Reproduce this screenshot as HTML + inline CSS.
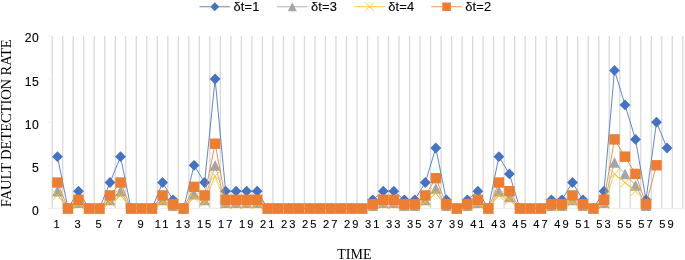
<!DOCTYPE html>
<html><head><meta charset="utf-8"><title>Fault detection rate</title>
<style>
html,body{margin:0;padding:0;background:#fff;}
body{width:685px;height:260px;overflow:hidden;}
svg{display:block;}
.t{font-family:"Liberation Sans",sans-serif;font-size:12.2px;fill:#000;stroke:#000;stroke-width:0.12px;}
.l{font-family:"Liberation Sans",sans-serif;font-size:12.9px;fill:#000;stroke:#000;stroke-width:0.12px;}
.x{font-family:"Liberation Sans",sans-serif;font-size:11.1px;fill:#000;stroke:#000;stroke-width:0.12px;}
.s{font-family:"Liberation Serif",serif;font-size:14px;fill:#000;}
</style></head><body>
<svg width="685" height="260" viewBox="0 0 685 260">
<rect width="685" height="260" fill="#fff"/>
<g stroke="#D9D9D9" stroke-width="1.3" fill="none">
<line x1="52.20" y1="35.9" x2="52.20" y2="208.4"/><line x1="62.71" y1="35.9" x2="62.71" y2="208.4"/><line x1="73.22" y1="35.9" x2="73.22" y2="208.4"/><line x1="83.73" y1="35.9" x2="83.73" y2="208.4"/><line x1="94.24" y1="35.9" x2="94.24" y2="208.4"/><line x1="104.75" y1="35.9" x2="104.75" y2="208.4"/><line x1="115.26" y1="35.9" x2="115.26" y2="208.4"/><line x1="125.77" y1="35.9" x2="125.77" y2="208.4"/><line x1="136.28" y1="35.9" x2="136.28" y2="208.4"/><line x1="146.79" y1="35.9" x2="146.79" y2="208.4"/><line x1="157.30" y1="35.9" x2="157.30" y2="208.4"/><line x1="167.81" y1="35.9" x2="167.81" y2="208.4"/><line x1="178.32" y1="35.9" x2="178.32" y2="208.4"/><line x1="188.83" y1="35.9" x2="188.83" y2="208.4"/><line x1="199.34" y1="35.9" x2="199.34" y2="208.4"/><line x1="209.85" y1="35.9" x2="209.85" y2="208.4"/><line x1="220.36" y1="35.9" x2="220.36" y2="208.4"/><line x1="230.87" y1="35.9" x2="230.87" y2="208.4"/><line x1="241.38" y1="35.9" x2="241.38" y2="208.4"/><line x1="251.89" y1="35.9" x2="251.89" y2="208.4"/><line x1="262.40" y1="35.9" x2="262.40" y2="208.4"/><line x1="272.91" y1="35.9" x2="272.91" y2="208.4"/><line x1="283.42" y1="35.9" x2="283.42" y2="208.4"/><line x1="293.93" y1="35.9" x2="293.93" y2="208.4"/><line x1="304.44" y1="35.9" x2="304.44" y2="208.4"/><line x1="314.95" y1="35.9" x2="314.95" y2="208.4"/><line x1="325.46" y1="35.9" x2="325.46" y2="208.4"/><line x1="335.97" y1="35.9" x2="335.97" y2="208.4"/><line x1="346.48" y1="35.9" x2="346.48" y2="208.4"/><line x1="356.99" y1="35.9" x2="356.99" y2="208.4"/><line x1="367.50" y1="35.9" x2="367.50" y2="208.4"/><line x1="378.01" y1="35.9" x2="378.01" y2="208.4"/><line x1="388.52" y1="35.9" x2="388.52" y2="208.4"/><line x1="399.03" y1="35.9" x2="399.03" y2="208.4"/><line x1="409.54" y1="35.9" x2="409.54" y2="208.4"/><line x1="420.05" y1="35.9" x2="420.05" y2="208.4"/><line x1="430.56" y1="35.9" x2="430.56" y2="208.4"/><line x1="441.07" y1="35.9" x2="441.07" y2="208.4"/><line x1="451.58" y1="35.9" x2="451.58" y2="208.4"/><line x1="462.09" y1="35.9" x2="462.09" y2="208.4"/><line x1="472.60" y1="35.9" x2="472.60" y2="208.4"/><line x1="483.11" y1="35.9" x2="483.11" y2="208.4"/><line x1="493.62" y1="35.9" x2="493.62" y2="208.4"/><line x1="504.13" y1="35.9" x2="504.13" y2="208.4"/><line x1="514.64" y1="35.9" x2="514.64" y2="208.4"/><line x1="525.15" y1="35.9" x2="525.15" y2="208.4"/><line x1="535.66" y1="35.9" x2="535.66" y2="208.4"/><line x1="546.17" y1="35.9" x2="546.17" y2="208.4"/><line x1="556.68" y1="35.9" x2="556.68" y2="208.4"/><line x1="567.19" y1="35.9" x2="567.19" y2="208.4"/><line x1="577.70" y1="35.9" x2="577.70" y2="208.4"/><line x1="588.21" y1="35.9" x2="588.21" y2="208.4"/><line x1="598.72" y1="35.9" x2="598.72" y2="208.4"/><line x1="609.23" y1="35.9" x2="609.23" y2="208.4"/><line x1="619.74" y1="35.9" x2="619.74" y2="208.4"/><line x1="630.25" y1="35.9" x2="630.25" y2="208.4"/><line x1="640.76" y1="35.9" x2="640.76" y2="208.4"/><line x1="651.27" y1="35.9" x2="651.27" y2="208.4"/><line x1="661.78" y1="35.9" x2="661.78" y2="208.4"/><line x1="672.29" y1="35.9" x2="672.29" y2="208.4"/><line x1="682.80" y1="35.9" x2="682.80" y2="208.4"/>
</g>
<g stroke="#F0F0F0" stroke-width="1" fill="none"><line x1="47.5" y1="208.4" x2="683" y2="208.4" stroke="#EBEBEB"/><line x1="47.5" y1="165.28" x2="52.2" y2="165.28"/><line x1="47.5" y1="122.15" x2="52.2" y2="122.15"/><line x1="47.5" y1="79.03" x2="52.2" y2="79.03"/><line x1="47.5" y1="35.90" x2="52.2" y2="35.90"/></g>
<text class="t" x="32.12" y="214.9" letter-spacing="0.5">0</text><text class="t" x="32.12" y="171.8" letter-spacing="0.5">5</text><text class="t" x="24.84" y="128.7" letter-spacing="0.5">10</text><text class="t" x="24.84" y="85.5" letter-spacing="0.5">15</text><text class="t" x="24.84" y="42.4" letter-spacing="0.5">20</text>
<text class="x" x="53.47" y="228.2">1</text><text class="x" x="74.48" y="228.2">3</text><text class="x" x="95.50" y="228.2">5</text><text class="x" x="116.52" y="228.2">7</text><text class="x" x="137.54" y="228.2">9</text><text class="x" x="154.84" y="228.2" letter-spacing="2.08">11</text><text class="x" x="175.86" y="228.2" letter-spacing="2.08">13</text><text class="x" x="196.89" y="228.2" letter-spacing="2.08">15</text><text class="x" x="217.91" y="228.2" letter-spacing="2.08">17</text><text class="x" x="238.92" y="228.2" letter-spacing="2.08">19</text><text class="x" x="259.94" y="228.2" letter-spacing="2.08">21</text><text class="x" x="280.97" y="228.2" letter-spacing="2.08">23</text><text class="x" x="301.99" y="228.2" letter-spacing="2.08">25</text><text class="x" x="323.00" y="228.2" letter-spacing="2.08">27</text><text class="x" x="344.02" y="228.2" letter-spacing="2.08">29</text><text class="x" x="365.05" y="228.2" letter-spacing="2.08">31</text><text class="x" x="386.06" y="228.2" letter-spacing="2.08">33</text><text class="x" x="407.08" y="228.2" letter-spacing="2.08">35</text><text class="x" x="428.11" y="228.2" letter-spacing="2.08">37</text><text class="x" x="449.12" y="228.2" letter-spacing="2.08">39</text><text class="x" x="470.14" y="228.2" letter-spacing="2.08">41</text><text class="x" x="491.17" y="228.2" letter-spacing="2.08">43</text><text class="x" x="512.18" y="228.2" letter-spacing="2.08">45</text><text class="x" x="533.20" y="228.2" letter-spacing="2.08">47</text><text class="x" x="554.23" y="228.2" letter-spacing="2.08">49</text><text class="x" x="575.25" y="228.2" letter-spacing="2.08">51</text><text class="x" x="596.26" y="228.2" letter-spacing="2.08">53</text><text class="x" x="617.28" y="228.2" letter-spacing="2.08">55</text><text class="x" x="638.30" y="228.2" letter-spacing="2.08">57</text><text class="x" x="659.33" y="228.2" letter-spacing="2.08">59</text>
<g><polyline fill="none" stroke="#4472C4" stroke-width="0.85" stroke-linejoin="round" points="57.46,156.65 67.97,208.40 78.47,191.15 88.98,208.40 99.50,208.40 110.00,182.53 120.52,156.65 131.03,208.40 141.53,208.40 152.05,208.40 162.56,182.53 173.06,199.78 183.57,208.40 194.08,165.28 204.60,182.53 215.11,79.03 225.62,191.15 236.12,191.15 246.63,191.15 257.14,191.15 267.65,208.40 278.17,208.40 288.68,208.40 299.19,208.40 309.69,208.40 320.20,208.40 330.71,208.40 341.22,208.40 351.73,208.40 362.25,208.40 372.75,199.78 383.26,191.15 393.77,191.15 404.28,199.78 414.79,199.78 425.31,182.53 435.81,148.03 446.32,199.78 456.83,208.40 467.34,199.78 477.85,191.15 488.36,208.40 498.88,156.65 509.38,173.90 519.89,208.40 530.40,208.40 540.91,208.40 551.42,199.78 561.94,199.78 572.45,182.53 582.96,199.78 593.47,208.40 603.98,191.15 614.49,70.40 625.00,104.90 635.50,139.40 646.01,199.78 656.52,122.15 667.04,148.03"/>
<path d="M57.46 151.25L62.86 156.65L57.46 162.05L52.06 156.65Z" fill="#4472C4"/><path d="M67.97 203.00L73.37 208.40L67.97 213.80L62.57 208.40Z" fill="#4472C4"/><path d="M78.47 185.75L83.88 191.15L78.47 196.55L73.07 191.15Z" fill="#4472C4"/><path d="M88.98 203.00L94.39 208.40L88.98 213.80L83.58 208.40Z" fill="#4472C4"/><path d="M99.50 203.00L104.90 208.40L99.50 213.80L94.09 208.40Z" fill="#4472C4"/><path d="M110.00 177.12L115.41 182.53L110.00 187.93L104.60 182.53Z" fill="#4472C4"/><path d="M120.52 151.25L125.92 156.65L120.52 162.05L115.11 156.65Z" fill="#4472C4"/><path d="M131.03 203.00L136.43 208.40L131.03 213.80L125.62 208.40Z" fill="#4472C4"/><path d="M141.53 203.00L146.94 208.40L141.53 213.80L136.13 208.40Z" fill="#4472C4"/><path d="M152.05 203.00L157.45 208.40L152.05 213.80L146.65 208.40Z" fill="#4472C4"/><path d="M162.56 177.12L167.96 182.53L162.56 187.93L157.16 182.53Z" fill="#4472C4"/><path d="M173.06 194.38L178.47 199.78L173.06 205.18L167.66 199.78Z" fill="#4472C4"/><path d="M183.57 203.00L188.97 208.40L183.57 213.80L178.17 208.40Z" fill="#4472C4"/><path d="M194.08 159.88L199.48 165.28L194.08 170.68L188.68 165.28Z" fill="#4472C4"/><path d="M204.60 177.12L210.00 182.53L204.60 187.93L199.20 182.53Z" fill="#4472C4"/><path d="M215.11 73.62L220.51 79.03L215.11 84.43L209.71 79.03Z" fill="#4472C4"/><path d="M225.62 185.75L231.02 191.15L225.62 196.55L220.22 191.15Z" fill="#4472C4"/><path d="M236.12 185.75L241.53 191.15L236.12 196.55L230.72 191.15Z" fill="#4472C4"/><path d="M246.63 185.75L252.03 191.15L246.63 196.55L241.23 191.15Z" fill="#4472C4"/><path d="M257.14 185.75L262.54 191.15L257.14 196.55L251.74 191.15Z" fill="#4472C4"/><path d="M267.65 203.00L273.05 208.40L267.65 213.80L262.25 208.40Z" fill="#4472C4"/><path d="M278.17 203.00L283.56 208.40L278.17 213.80L272.77 208.40Z" fill="#4472C4"/><path d="M288.68 203.00L294.07 208.40L288.68 213.80L283.28 208.40Z" fill="#4472C4"/><path d="M299.19 203.00L304.58 208.40L299.19 213.80L293.79 208.40Z" fill="#4472C4"/><path d="M309.69 203.00L315.09 208.40L309.69 213.80L304.30 208.40Z" fill="#4472C4"/><path d="M320.20 203.00L325.60 208.40L320.20 213.80L314.81 208.40Z" fill="#4472C4"/><path d="M330.71 203.00L336.11 208.40L330.71 213.80L325.31 208.40Z" fill="#4472C4"/><path d="M341.22 203.00L346.62 208.40L341.22 213.80L335.82 208.40Z" fill="#4472C4"/><path d="M351.73 203.00L357.13 208.40L351.73 213.80L346.33 208.40Z" fill="#4472C4"/><path d="M362.25 203.00L367.64 208.40L362.25 213.80L356.85 208.40Z" fill="#4472C4"/><path d="M372.75 194.38L378.15 199.78L372.75 205.18L367.36 199.78Z" fill="#4472C4"/><path d="M383.26 185.75L388.66 191.15L383.26 196.55L377.87 191.15Z" fill="#4472C4"/><path d="M393.77 185.75L399.17 191.15L393.77 196.55L388.38 191.15Z" fill="#4472C4"/><path d="M404.28 194.38L409.68 199.78L404.28 205.18L398.88 199.78Z" fill="#4472C4"/><path d="M414.79 194.38L420.19 199.78L414.79 205.18L409.39 199.78Z" fill="#4472C4"/><path d="M425.31 177.12L430.70 182.53L425.31 187.93L419.91 182.53Z" fill="#4472C4"/><path d="M435.81 142.62L441.21 148.03L435.81 153.43L430.42 148.03Z" fill="#4472C4"/><path d="M446.32 194.38L451.72 199.78L446.32 205.18L440.93 199.78Z" fill="#4472C4"/><path d="M456.83 203.00L462.23 208.40L456.83 213.80L451.44 208.40Z" fill="#4472C4"/><path d="M467.34 194.38L472.74 199.78L467.34 205.18L461.94 199.78Z" fill="#4472C4"/><path d="M477.85 185.75L483.25 191.15L477.85 196.55L472.45 191.15Z" fill="#4472C4"/><path d="M488.36 203.00L493.76 208.40L488.36 213.80L482.96 208.40Z" fill="#4472C4"/><path d="M498.88 151.25L504.27 156.65L498.88 162.05L493.48 156.65Z" fill="#4472C4"/><path d="M509.38 168.50L514.78 173.90L509.38 179.30L503.99 173.90Z" fill="#4472C4"/><path d="M519.89 203.00L525.29 208.40L519.89 213.80L514.50 208.40Z" fill="#4472C4"/><path d="M530.40 203.00L535.80 208.40L530.40 213.80L525.00 208.40Z" fill="#4472C4"/><path d="M540.91 203.00L546.31 208.40L540.91 213.80L535.51 208.40Z" fill="#4472C4"/><path d="M551.42 194.38L556.82 199.78L551.42 205.18L546.02 199.78Z" fill="#4472C4"/><path d="M561.94 194.38L567.34 199.78L561.94 205.18L556.54 199.78Z" fill="#4472C4"/><path d="M572.45 177.12L577.85 182.53L572.45 187.93L567.05 182.53Z" fill="#4472C4"/><path d="M582.96 194.38L588.36 199.78L582.96 205.18L577.56 199.78Z" fill="#4472C4"/><path d="M593.47 203.00L598.87 208.40L593.47 213.80L588.07 208.40Z" fill="#4472C4"/><path d="M603.98 185.75L609.38 191.15L603.98 196.55L598.58 191.15Z" fill="#4472C4"/><path d="M614.49 65.00L619.88 70.40L614.49 75.80L609.09 70.40Z" fill="#4472C4"/><path d="M625.00 99.50L630.39 104.90L625.00 110.30L619.60 104.90Z" fill="#4472C4"/><path d="M635.50 134.00L640.90 139.40L635.50 144.80L630.11 139.40Z" fill="#4472C4"/><path d="M646.01 194.38L651.41 199.78L646.01 205.18L640.62 199.78Z" fill="#4472C4"/><path d="M656.52 116.75L661.92 122.15L656.52 127.55L651.12 122.15Z" fill="#4472C4"/><path d="M667.04 142.62L672.44 148.03L667.04 153.43L661.64 148.03Z" fill="#4472C4"/></g>
<g><polyline fill="none" stroke="#A5A5A5" stroke-width="0.85" stroke-linejoin="round" points="57.46,191.15 67.97,208.40 78.47,202.65 88.98,208.40 99.50,208.40 110.00,199.78 120.52,191.15 131.03,208.40 141.53,208.40 152.05,208.40 162.56,199.78 173.06,205.53 183.57,208.40 194.08,194.03 204.60,199.78 215.11,165.28 225.62,202.65 236.12,202.65 246.63,202.65 257.14,202.65 267.65,208.40 278.17,208.40 288.68,208.40 299.19,208.40 309.69,208.40 320.20,208.40 330.71,208.40 341.22,208.40 351.73,208.40 362.25,208.40 372.75,205.53 383.26,202.65 393.77,202.65 404.28,205.53 414.79,205.53 425.31,199.78 435.81,188.28 446.32,205.53 456.83,208.40 467.34,205.53 477.85,202.65 488.36,208.40 498.88,191.15 509.38,196.90 519.89,208.40 530.40,208.40 540.91,208.40 551.42,205.53 561.94,205.53 572.45,199.78 582.96,205.53 593.47,208.40 603.98,202.65 614.49,162.40 625.00,173.90 635.50,185.40 646.01,205.53"/>
<path d="M57.46 185.75L62.86 196.55L52.06 196.55Z" fill="#A5A5A5"/><path d="M67.97 203.00L73.37 213.80L62.57 213.80Z" fill="#A5A5A5"/><path d="M78.47 197.25L83.88 208.05L73.07 208.05Z" fill="#A5A5A5"/><path d="M88.98 203.00L94.39 213.80L83.58 213.80Z" fill="#A5A5A5"/><path d="M99.50 203.00L104.90 213.80L94.09 213.80Z" fill="#A5A5A5"/><path d="M110.00 194.38L115.41 205.18L104.60 205.18Z" fill="#A5A5A5"/><path d="M120.52 185.75L125.92 196.55L115.11 196.55Z" fill="#A5A5A5"/><path d="M131.03 203.00L136.43 213.80L125.62 213.80Z" fill="#A5A5A5"/><path d="M141.53 203.00L146.94 213.80L136.13 213.80Z" fill="#A5A5A5"/><path d="M152.05 203.00L157.45 213.80L146.65 213.80Z" fill="#A5A5A5"/><path d="M162.56 194.38L167.96 205.18L157.16 205.18Z" fill="#A5A5A5"/><path d="M173.06 200.12L178.47 210.93L167.66 210.93Z" fill="#A5A5A5"/><path d="M183.57 203.00L188.97 213.80L178.17 213.80Z" fill="#A5A5A5"/><path d="M194.08 188.62L199.48 199.43L188.68 199.43Z" fill="#A5A5A5"/><path d="M204.60 194.38L210.00 205.18L199.20 205.18Z" fill="#A5A5A5"/><path d="M215.11 159.88L220.51 170.68L209.71 170.68Z" fill="#A5A5A5"/><path d="M225.62 197.25L231.02 208.05L220.22 208.05Z" fill="#A5A5A5"/><path d="M236.12 197.25L241.53 208.05L230.72 208.05Z" fill="#A5A5A5"/><path d="M246.63 197.25L252.03 208.05L241.23 208.05Z" fill="#A5A5A5"/><path d="M257.14 197.25L262.54 208.05L251.74 208.05Z" fill="#A5A5A5"/><path d="M267.65 203.00L273.05 213.80L262.25 213.80Z" fill="#A5A5A5"/><path d="M278.17 203.00L283.56 213.80L272.77 213.80Z" fill="#A5A5A5"/><path d="M288.68 203.00L294.07 213.80L283.28 213.80Z" fill="#A5A5A5"/><path d="M299.19 203.00L304.58 213.80L293.79 213.80Z" fill="#A5A5A5"/><path d="M309.69 203.00L315.09 213.80L304.30 213.80Z" fill="#A5A5A5"/><path d="M320.20 203.00L325.60 213.80L314.81 213.80Z" fill="#A5A5A5"/><path d="M330.71 203.00L336.11 213.80L325.31 213.80Z" fill="#A5A5A5"/><path d="M341.22 203.00L346.62 213.80L335.82 213.80Z" fill="#A5A5A5"/><path d="M351.73 203.00L357.13 213.80L346.33 213.80Z" fill="#A5A5A5"/><path d="M362.25 203.00L367.64 213.80L356.85 213.80Z" fill="#A5A5A5"/><path d="M372.75 200.12L378.15 210.93L367.36 210.93Z" fill="#A5A5A5"/><path d="M383.26 197.25L388.66 208.05L377.87 208.05Z" fill="#A5A5A5"/><path d="M393.77 197.25L399.17 208.05L388.38 208.05Z" fill="#A5A5A5"/><path d="M404.28 200.12L409.68 210.93L398.88 210.93Z" fill="#A5A5A5"/><path d="M414.79 200.12L420.19 210.93L409.39 210.93Z" fill="#A5A5A5"/><path d="M425.31 194.38L430.70 205.18L419.91 205.18Z" fill="#A5A5A5"/><path d="M435.81 182.88L441.21 193.68L430.42 193.68Z" fill="#A5A5A5"/><path d="M446.32 200.12L451.72 210.93L440.93 210.93Z" fill="#A5A5A5"/><path d="M456.83 203.00L462.23 213.80L451.44 213.80Z" fill="#A5A5A5"/><path d="M467.34 200.12L472.74 210.93L461.94 210.93Z" fill="#A5A5A5"/><path d="M477.85 197.25L483.25 208.05L472.45 208.05Z" fill="#A5A5A5"/><path d="M488.36 203.00L493.76 213.80L482.96 213.80Z" fill="#A5A5A5"/><path d="M498.88 185.75L504.27 196.55L493.48 196.55Z" fill="#A5A5A5"/><path d="M509.38 191.50L514.78 202.30L503.99 202.30Z" fill="#A5A5A5"/><path d="M519.89 203.00L525.29 213.80L514.50 213.80Z" fill="#A5A5A5"/><path d="M530.40 203.00L535.80 213.80L525.00 213.80Z" fill="#A5A5A5"/><path d="M540.91 203.00L546.31 213.80L535.51 213.80Z" fill="#A5A5A5"/><path d="M551.42 200.12L556.82 210.93L546.02 210.93Z" fill="#A5A5A5"/><path d="M561.94 200.12L567.34 210.93L556.54 210.93Z" fill="#A5A5A5"/><path d="M572.45 194.38L577.85 205.18L567.05 205.18Z" fill="#A5A5A5"/><path d="M582.96 200.12L588.36 210.93L577.56 210.93Z" fill="#A5A5A5"/><path d="M593.47 203.00L598.87 213.80L588.07 213.80Z" fill="#A5A5A5"/><path d="M603.98 197.25L609.38 208.05L598.58 208.05Z" fill="#A5A5A5"/><path d="M614.49 157.00L619.88 167.80L609.09 167.80Z" fill="#A5A5A5"/><path d="M625.00 168.50L630.39 179.30L619.60 179.30Z" fill="#A5A5A5"/><path d="M635.50 180.00L640.90 190.80L630.11 190.80Z" fill="#A5A5A5"/><path d="M646.01 200.12L651.41 210.93L640.62 210.93Z" fill="#A5A5A5"/></g>
<g><polyline fill="none" stroke="#FFC000" stroke-width="0.85" stroke-linejoin="round" points="57.46,195.46 67.97,208.40 78.47,204.09 88.98,208.40 99.50,208.40 110.00,201.93 120.52,195.46 131.03,208.40 141.53,208.40 152.05,208.40 162.56,201.93 173.06,206.24 183.57,208.40 194.08,197.62 204.60,201.93 215.11,176.06 225.62,204.09 236.12,204.09 246.63,204.09 257.14,204.09 267.65,208.40 278.17,208.40 288.68,208.40 299.19,208.40 309.69,208.40 320.20,208.40 330.71,208.40 341.22,208.40 351.73,208.40 362.25,208.40 372.75,206.24 383.26,204.09 393.77,204.09 404.28,206.24 414.79,206.24 425.31,201.93 435.81,193.31 446.32,206.24 456.83,208.40 467.34,206.24 477.85,204.09 488.36,208.40 498.88,195.46 509.38,199.78 519.89,208.40 530.40,208.40 540.91,208.40 551.42,206.24 561.94,206.24 572.45,201.93 582.96,206.24 593.47,208.40 603.98,204.09 614.49,173.90 625.00,182.53 635.50,191.15"/>
<path d="M52.46 190.46L62.46 200.46M62.46 190.46L52.46 200.46" stroke="#FFC000" stroke-width="0.85" fill="none"/><path d="M62.97 203.40L72.97 213.40M72.97 203.40L62.97 213.40" stroke="#FFC000" stroke-width="0.85" fill="none"/><path d="M73.47 199.09L83.47 209.09M83.47 199.09L73.47 209.09" stroke="#FFC000" stroke-width="0.85" fill="none"/><path d="M83.98 203.40L93.98 213.40M93.98 203.40L83.98 213.40" stroke="#FFC000" stroke-width="0.85" fill="none"/><path d="M94.50 203.40L104.50 213.40M104.50 203.40L94.50 213.40" stroke="#FFC000" stroke-width="0.85" fill="none"/><path d="M105.00 196.93L115.00 206.93M115.00 196.93L105.00 206.93" stroke="#FFC000" stroke-width="0.85" fill="none"/><path d="M115.52 190.46L125.52 200.46M125.52 190.46L115.52 200.46" stroke="#FFC000" stroke-width="0.85" fill="none"/><path d="M126.03 203.40L136.03 213.40M136.03 203.40L126.03 213.40" stroke="#FFC000" stroke-width="0.85" fill="none"/><path d="M136.53 203.40L146.53 213.40M146.53 203.40L136.53 213.40" stroke="#FFC000" stroke-width="0.85" fill="none"/><path d="M147.05 203.40L157.05 213.40M157.05 203.40L147.05 213.40" stroke="#FFC000" stroke-width="0.85" fill="none"/><path d="M157.56 196.93L167.56 206.93M167.56 196.93L157.56 206.93" stroke="#FFC000" stroke-width="0.85" fill="none"/><path d="M168.06 201.24L178.06 211.24M178.06 201.24L168.06 211.24" stroke="#FFC000" stroke-width="0.85" fill="none"/><path d="M178.57 203.40L188.57 213.40M188.57 203.40L178.57 213.40" stroke="#FFC000" stroke-width="0.85" fill="none"/><path d="M189.08 192.62L199.08 202.62M199.08 192.62L189.08 202.62" stroke="#FFC000" stroke-width="0.85" fill="none"/><path d="M199.60 196.93L209.60 206.93M209.60 196.93L199.60 206.93" stroke="#FFC000" stroke-width="0.85" fill="none"/><path d="M210.11 171.06L220.11 181.06M220.11 171.06L210.11 181.06" stroke="#FFC000" stroke-width="0.85" fill="none"/><path d="M220.62 199.09L230.62 209.09M230.62 199.09L220.62 209.09" stroke="#FFC000" stroke-width="0.85" fill="none"/><path d="M231.12 199.09L241.12 209.09M241.12 199.09L231.12 209.09" stroke="#FFC000" stroke-width="0.85" fill="none"/><path d="M241.63 199.09L251.63 209.09M251.63 199.09L241.63 209.09" stroke="#FFC000" stroke-width="0.85" fill="none"/><path d="M252.14 199.09L262.14 209.09M262.14 199.09L252.14 209.09" stroke="#FFC000" stroke-width="0.85" fill="none"/><path d="M262.65 203.40L272.65 213.40M272.65 203.40L262.65 213.40" stroke="#FFC000" stroke-width="0.85" fill="none"/><path d="M273.17 203.40L283.17 213.40M283.17 203.40L273.17 213.40" stroke="#FFC000" stroke-width="0.85" fill="none"/><path d="M283.68 203.40L293.68 213.40M293.68 203.40L283.68 213.40" stroke="#FFC000" stroke-width="0.85" fill="none"/><path d="M294.19 203.40L304.19 213.40M304.19 203.40L294.19 213.40" stroke="#FFC000" stroke-width="0.85" fill="none"/><path d="M304.69 203.40L314.69 213.40M314.69 203.40L304.69 213.40" stroke="#FFC000" stroke-width="0.85" fill="none"/><path d="M315.20 203.40L325.20 213.40M325.20 203.40L315.20 213.40" stroke="#FFC000" stroke-width="0.85" fill="none"/><path d="M325.71 203.40L335.71 213.40M335.71 203.40L325.71 213.40" stroke="#FFC000" stroke-width="0.85" fill="none"/><path d="M336.22 203.40L346.22 213.40M346.22 203.40L336.22 213.40" stroke="#FFC000" stroke-width="0.85" fill="none"/><path d="M346.73 203.40L356.73 213.40M356.73 203.40L346.73 213.40" stroke="#FFC000" stroke-width="0.85" fill="none"/><path d="M357.25 203.40L367.25 213.40M367.25 203.40L357.25 213.40" stroke="#FFC000" stroke-width="0.85" fill="none"/><path d="M367.75 201.24L377.75 211.24M377.75 201.24L367.75 211.24" stroke="#FFC000" stroke-width="0.85" fill="none"/><path d="M378.26 199.09L388.26 209.09M388.26 199.09L378.26 209.09" stroke="#FFC000" stroke-width="0.85" fill="none"/><path d="M388.77 199.09L398.77 209.09M398.77 199.09L388.77 209.09" stroke="#FFC000" stroke-width="0.85" fill="none"/><path d="M399.28 201.24L409.28 211.24M409.28 201.24L399.28 211.24" stroke="#FFC000" stroke-width="0.85" fill="none"/><path d="M409.79 201.24L419.79 211.24M419.79 201.24L409.79 211.24" stroke="#FFC000" stroke-width="0.85" fill="none"/><path d="M420.31 196.93L430.31 206.93M430.31 196.93L420.31 206.93" stroke="#FFC000" stroke-width="0.85" fill="none"/><path d="M430.81 188.31L440.81 198.31M440.81 188.31L430.81 198.31" stroke="#FFC000" stroke-width="0.85" fill="none"/><path d="M441.32 201.24L451.32 211.24M451.32 201.24L441.32 211.24" stroke="#FFC000" stroke-width="0.85" fill="none"/><path d="M451.83 203.40L461.83 213.40M461.83 203.40L451.83 213.40" stroke="#FFC000" stroke-width="0.85" fill="none"/><path d="M462.34 201.24L472.34 211.24M472.34 201.24L462.34 211.24" stroke="#FFC000" stroke-width="0.85" fill="none"/><path d="M472.85 199.09L482.85 209.09M482.85 199.09L472.85 209.09" stroke="#FFC000" stroke-width="0.85" fill="none"/><path d="M483.36 203.40L493.36 213.40M493.36 203.40L483.36 213.40" stroke="#FFC000" stroke-width="0.85" fill="none"/><path d="M493.88 190.46L503.88 200.46M503.88 190.46L493.88 200.46" stroke="#FFC000" stroke-width="0.85" fill="none"/><path d="M504.38 194.78L514.38 204.78M514.38 194.78L504.38 204.78" stroke="#FFC000" stroke-width="0.85" fill="none"/><path d="M514.89 203.40L524.89 213.40M524.89 203.40L514.89 213.40" stroke="#FFC000" stroke-width="0.85" fill="none"/><path d="M525.40 203.40L535.40 213.40M535.40 203.40L525.40 213.40" stroke="#FFC000" stroke-width="0.85" fill="none"/><path d="M535.91 203.40L545.91 213.40M545.91 203.40L535.91 213.40" stroke="#FFC000" stroke-width="0.85" fill="none"/><path d="M546.42 201.24L556.42 211.24M556.42 201.24L546.42 211.24" stroke="#FFC000" stroke-width="0.85" fill="none"/><path d="M556.94 201.24L566.94 211.24M566.94 201.24L556.94 211.24" stroke="#FFC000" stroke-width="0.85" fill="none"/><path d="M567.45 196.93L577.45 206.93M577.45 196.93L567.45 206.93" stroke="#FFC000" stroke-width="0.85" fill="none"/><path d="M577.96 201.24L587.96 211.24M587.96 201.24L577.96 211.24" stroke="#FFC000" stroke-width="0.85" fill="none"/><path d="M588.47 203.40L598.47 213.40M598.47 203.40L588.47 213.40" stroke="#FFC000" stroke-width="0.85" fill="none"/><path d="M598.98 199.09L608.98 209.09M608.98 199.09L598.98 209.09" stroke="#FFC000" stroke-width="0.85" fill="none"/><path d="M609.49 168.90L619.49 178.90M619.49 168.90L609.49 178.90" stroke="#FFC000" stroke-width="0.85" fill="none"/><path d="M620.00 177.53L630.00 187.53M630.00 177.53L620.00 187.53" stroke="#FFC000" stroke-width="0.85" fill="none"/><path d="M630.50 186.15L640.50 196.15M640.50 186.15L630.50 196.15" stroke="#FFC000" stroke-width="0.85" fill="none"/></g>
<g><polyline fill="none" stroke="#ED7D31" stroke-width="0.85" stroke-linejoin="round" points="57.46,182.53 67.97,208.40 78.47,199.78 88.98,208.40 99.50,208.40 110.00,195.46 120.52,182.53 131.03,208.40 141.53,208.40 152.05,208.40 162.56,195.46 173.06,204.09 183.57,208.40 194.08,186.84 204.60,195.46 215.11,143.71 225.62,199.78 236.12,199.78 246.63,199.78 257.14,199.78 267.65,208.40 278.17,208.40 288.68,208.40 299.19,208.40 309.69,208.40 320.20,208.40 330.71,208.40 341.22,208.40 351.73,208.40 362.25,208.40 372.75,204.09 383.26,199.78 393.77,199.78 404.28,204.09 414.79,204.09 425.31,195.46 435.81,178.21 446.32,204.09 456.83,208.40 467.34,204.09 477.85,199.78 488.36,208.40 498.88,182.53 509.38,191.15 519.89,208.40 530.40,208.40 540.91,208.40 551.42,204.09 561.94,204.09 572.45,195.46 582.96,204.09 593.47,208.40 603.98,199.78 614.49,139.40 625.00,156.65 635.50,173.90 646.01,204.09 656.52,165.28"/>
<rect x="52.26" y="177.33" width="10.4" height="10.4" fill="#ED7D31"/><rect x="62.77" y="203.20" width="10.4" height="10.4" fill="#ED7D31"/><rect x="73.27" y="194.58" width="10.4" height="10.4" fill="#ED7D31"/><rect x="83.78" y="203.20" width="10.4" height="10.4" fill="#ED7D31"/><rect x="94.30" y="203.20" width="10.4" height="10.4" fill="#ED7D31"/><rect x="104.80" y="190.26" width="10.4" height="10.4" fill="#ED7D31"/><rect x="115.31" y="177.33" width="10.4" height="10.4" fill="#ED7D31"/><rect x="125.83" y="203.20" width="10.4" height="10.4" fill="#ED7D31"/><rect x="136.34" y="203.20" width="10.4" height="10.4" fill="#ED7D31"/><rect x="146.85" y="203.20" width="10.4" height="10.4" fill="#ED7D31"/><rect x="157.36" y="190.26" width="10.4" height="10.4" fill="#ED7D31"/><rect x="167.87" y="198.89" width="10.4" height="10.4" fill="#ED7D31"/><rect x="178.38" y="203.20" width="10.4" height="10.4" fill="#ED7D31"/><rect x="188.88" y="181.64" width="10.4" height="10.4" fill="#ED7D31"/><rect x="199.40" y="190.26" width="10.4" height="10.4" fill="#ED7D31"/><rect x="209.91" y="138.51" width="10.4" height="10.4" fill="#ED7D31"/><rect x="220.42" y="194.58" width="10.4" height="10.4" fill="#ED7D31"/><rect x="230.93" y="194.58" width="10.4" height="10.4" fill="#ED7D31"/><rect x="241.44" y="194.58" width="10.4" height="10.4" fill="#ED7D31"/><rect x="251.94" y="194.58" width="10.4" height="10.4" fill="#ED7D31"/><rect x="262.45" y="203.20" width="10.4" height="10.4" fill="#ED7D31"/><rect x="272.97" y="203.20" width="10.4" height="10.4" fill="#ED7D31"/><rect x="283.48" y="203.20" width="10.4" height="10.4" fill="#ED7D31"/><rect x="293.99" y="203.20" width="10.4" height="10.4" fill="#ED7D31"/><rect x="304.50" y="203.20" width="10.4" height="10.4" fill="#ED7D31"/><rect x="315.00" y="203.20" width="10.4" height="10.4" fill="#ED7D31"/><rect x="325.51" y="203.20" width="10.4" height="10.4" fill="#ED7D31"/><rect x="336.02" y="203.20" width="10.4" height="10.4" fill="#ED7D31"/><rect x="346.53" y="203.20" width="10.4" height="10.4" fill="#ED7D31"/><rect x="357.05" y="203.20" width="10.4" height="10.4" fill="#ED7D31"/><rect x="367.56" y="198.89" width="10.4" height="10.4" fill="#ED7D31"/><rect x="378.06" y="194.58" width="10.4" height="10.4" fill="#ED7D31"/><rect x="388.57" y="194.58" width="10.4" height="10.4" fill="#ED7D31"/><rect x="399.08" y="198.89" width="10.4" height="10.4" fill="#ED7D31"/><rect x="409.59" y="198.89" width="10.4" height="10.4" fill="#ED7D31"/><rect x="420.11" y="190.26" width="10.4" height="10.4" fill="#ED7D31"/><rect x="430.62" y="173.01" width="10.4" height="10.4" fill="#ED7D31"/><rect x="441.12" y="198.89" width="10.4" height="10.4" fill="#ED7D31"/><rect x="451.63" y="203.20" width="10.4" height="10.4" fill="#ED7D31"/><rect x="462.14" y="198.89" width="10.4" height="10.4" fill="#ED7D31"/><rect x="472.65" y="194.58" width="10.4" height="10.4" fill="#ED7D31"/><rect x="483.16" y="203.20" width="10.4" height="10.4" fill="#ED7D31"/><rect x="493.68" y="177.33" width="10.4" height="10.4" fill="#ED7D31"/><rect x="504.19" y="185.95" width="10.4" height="10.4" fill="#ED7D31"/><rect x="514.69" y="203.20" width="10.4" height="10.4" fill="#ED7D31"/><rect x="525.20" y="203.20" width="10.4" height="10.4" fill="#ED7D31"/><rect x="535.71" y="203.20" width="10.4" height="10.4" fill="#ED7D31"/><rect x="546.22" y="198.89" width="10.4" height="10.4" fill="#ED7D31"/><rect x="556.74" y="198.89" width="10.4" height="10.4" fill="#ED7D31"/><rect x="567.25" y="190.26" width="10.4" height="10.4" fill="#ED7D31"/><rect x="577.75" y="198.89" width="10.4" height="10.4" fill="#ED7D31"/><rect x="588.26" y="203.20" width="10.4" height="10.4" fill="#ED7D31"/><rect x="598.77" y="194.58" width="10.4" height="10.4" fill="#ED7D31"/><rect x="609.28" y="134.20" width="10.4" height="10.4" fill="#ED7D31"/><rect x="619.79" y="151.45" width="10.4" height="10.4" fill="#ED7D31"/><rect x="630.30" y="168.70" width="10.4" height="10.4" fill="#ED7D31"/><rect x="640.81" y="198.89" width="10.4" height="10.4" fill="#ED7D31"/><rect x="651.32" y="160.08" width="10.4" height="10.4" fill="#ED7D31"/></g>
<line x1="199.5" y1="6.75" x2="230.1" y2="6.75" stroke="#4472C4" stroke-width="0.85"/><path d="M214.80 2.32L219.23 6.75L214.80 11.18L210.37 6.75Z" fill="#4472C4"/><text class="l" x="233.60" y="11" letter-spacing="0.1">δt=1</text>
<line x1="277" y1="6.75" x2="307.6" y2="6.75" stroke="#A5A5A5" stroke-width="0.85"/><path d="M292.30 2.32L296.73 11.18L287.87 11.18Z" fill="#A5A5A5"/><text class="l" x="311.10" y="11" letter-spacing="0.1">δt=3</text>
<line x1="354.25" y1="6.75" x2="384.85" y2="6.75" stroke="#FFC000" stroke-width="0.85"/><path d="M365.45 2.65L373.65 10.85M373.65 2.65L365.45 10.85" stroke="#FFC000" stroke-width="0.85" fill="none"/><text class="l" x="388.35" y="11" letter-spacing="0.1">δt=4</text>
<line x1="431.25" y1="6.75" x2="461.85" y2="6.75" stroke="#ED7D31" stroke-width="0.85"/><rect x="442.29" y="2.49" width="8.528" height="8.528" fill="#ED7D31"/><text class="l" x="465.35" y="11" letter-spacing="0.1">δt=2</text>
<text class="s" x="337.2" y="258.6" textLength="34.4" lengthAdjust="spacing">TIME</text>
<text class="s" style="font-size:14.6px" transform="translate(10.8 207.3) rotate(-90)" textLength="168.1" lengthAdjust="spacing">FAULT DETECTION RATE</text>
</svg>
</body></html>
